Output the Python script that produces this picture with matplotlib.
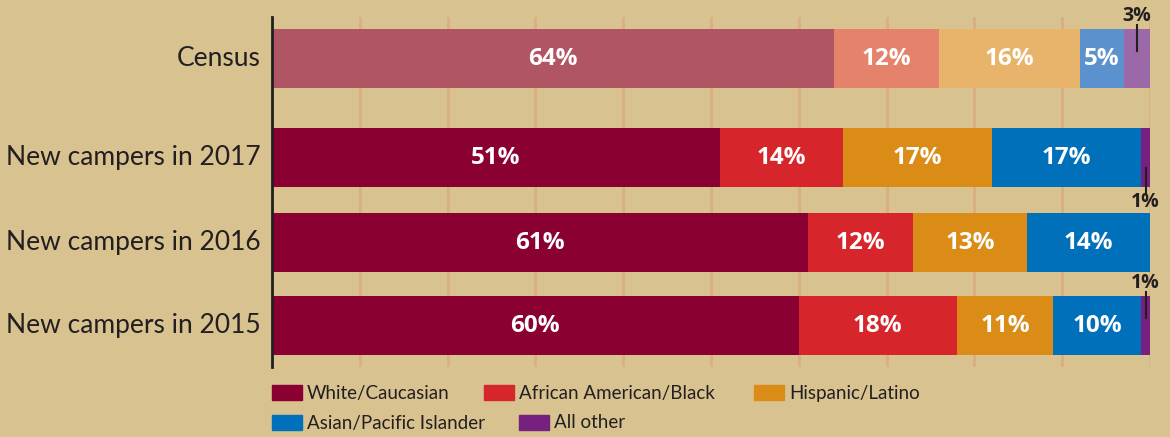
import matplotlib
matplotlib.use('Agg')
import matplotlib.pyplot as plt
from matplotlib.patches import Rectangle

W, H = 1170, 437
BG = '#d8c290'
GRID = '#dcae80'

# data
categorias = ['Census', 'New campers in 2017', 'New campers in 2016', 'New campers in 2015']
grupos = ['White/Caucasian', 'African American/Black', 'Hispanic/Latino',
          'Asian/Pacific Islander', 'All other']
blanco = [64, 51, 61, 60]
afro = [12, 14, 12, 18]
hispano = [16, 17, 13, 11]
asiatico = [5, 17, 14, 10]
otro = [3, 1, 0, 1]

colores = ['#8a0033', '#d7262b', '#da8c17', '#0070bb', '#76217f']
colores_census = ['#b05563', '#e5826b', '#e8b46c', '#5b91cc', '#9b69a8']

# layout (pixels)
X0, X1 = 272, 1150
Y_TOP, Y_BOT = 17, 367
CENTROS = [58.5, 157.5, 242.5, 325.5]
ALTO = 59


def fx(px):
    return px / W


def fy(py):
    return 1 - py / H


fig = plt.figure(figsize=(W / 100, H / 100), dpi=100)
fig.patch.set_facecolor(BG)
ax = fig.add_axes([fx(X0), fy(Y_BOT), (X1 - X0) / W, (Y_BOT - Y_TOP) / H])
ax.set_facecolor(BG)
ax.set_xlim(0, 100)
ax.set_ylim(Y_BOT, Y_TOP)

for g in range(10, 101, 10):
    ax.axvline(g, color=GRID, lw=2, zorder=0)

series = [blanco, afro, hispano, asiatico, otro]
for i, cat in enumerate(categorias):
    izq = 0
    paleta = colores_census if i == 0 else colores
    for j, s in enumerate(series):
        v = s[i]
        if v == 0:
            continue
        ax.barh(CENTROS[i], v, left=izq, height=ALTO, color=paleta[j], zorder=2)
        if v >= 5:
            ax.text(izq + v / 2, CENTROS[i], f'{v}%', ha='center', va='center',
                    color='white', fontsize=17.5, fontweight='bold',
                    family='Open Sans', zorder=3)
        izq += v
    ax.text(-1.3, CENTROS[i], cat, ha='right', va='center', fontsize=19,
            family='Lato', color='#231f20')

# small labels for tiny segments
pequenos = [(0, 3, 'above'), (1, 1, 'below'), (3, 1, 'above')]
for i, v, pos in pequenos:
    xc = 100 - v / 2
    if pos == 'above':
        y_lin = (CENTROS[i] - ALTO / 2 - 4, CENTROS[i] - ALTO / 2 + 22)
        ax.plot([xc, xc], y_lin, color='#231f20', lw=1.5, zorder=4, clip_on=False)
        ax.text(xc, y_lin[0] + 1, f'{v}%', ha='center', va='bottom', fontsize=14,
                fontweight='bold', family='Open Sans', color='#231f20', clip_on=False)
    else:
        y_lin = (CENTROS[i] + ALTO / 2 - 19, CENTROS[i] + ALTO / 2 + 6)
        ax.plot([xc, xc], y_lin, color='#231f20', lw=1.5, zorder=4, clip_on=False)
        ax.text(xc, y_lin[1] - 1, f'{v}%', ha='center', va='top', fontsize=14,
                fontweight='bold', family='Open Sans', color='#231f20', clip_on=False)

ax.set_xticks([])
ax.set_yticks([])
for side in ['top', 'right', 'bottom']:
    ax.spines[side].set_visible(False)
ax.spines['left'].set_color('#231f20')
ax.spines['left'].set_linewidth(2)

# legend
pos_leyenda = [(272, 385), (484, 385), (754, 385), (272, 415), (519, 415)]
for (px, py), nombre, c in zip(pos_leyenda, grupos, colores):
    fig.add_artist(Rectangle((fx(px), fy(py + 15)), 30 / W, 15 / H,
                             transform=fig.transFigure, color=c))
    fig.text(fx(px + 35), fy(py + 8), nombre, ha='left', va='center',
             fontsize=13.5, family='Lato', color='#231f20')

fig.savefig('out.png', dpi=100, facecolor=BG)
